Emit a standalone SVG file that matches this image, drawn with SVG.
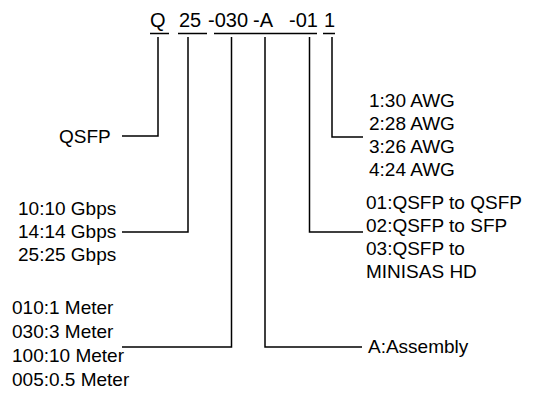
<svg xmlns="http://www.w3.org/2000/svg" width="540" height="398" viewBox="0 0 540 398">
<style>
.t{font-family:"Liberation Sans",Arial,sans-serif;font-size:19px;fill:#000}
.h{font-family:"Liberation Sans",Arial,sans-serif;font-size:20px;fill:#000}
.l{stroke:#000;stroke-width:1.5;fill:none}
</style>
<rect width="540" height="398" fill="#fff"/>
<g id="code">
<text class="h" x="150" y="27">Q</text>
<text class="h" x="179" y="27">25</text>
<text class="h" x="208" y="27">-030</text>
<text class="h" x="253" y="27">-A</text>
<text class="h" x="289" y="27">-01</text>
<text class="h" x="324" y="27">1</text>
</g>
<g id="connectors" class="l">
<path d="M150 33.5H169M178 33.5H207M214 33.5H317M323 33.5H335"/>
<path d="M158 37V136H122"/>
<path d="M188 37V232H122"/>
<path d="M231.5 37V347H122"/>
<path d="M265 37V347H362"/>
<path d="M309.5 37V232H363"/>
<path d="M332 37V137H363"/>
</g>
<g id="qsfp"><text class="t" x="59" y="143">QSFP</text></g>
<g id="speed">
<text class="t" x="18" y="215">10:10 Gbps</text>
<text class="t" x="18" y="238">14:14 Gbps</text>
<text class="t" x="18" y="261">25:25 Gbps</text>
</g>
<g id="length">
<text class="t" x="12" y="314">010:1 Meter</text>
<text class="t" x="12" y="338">030:3 Meter</text>
<text class="t" x="12" y="362">100:10 Meter</text>
<text class="t" x="12" y="386">005:0.5 Meter</text>
</g>
<g id="awg">
<text class="t" x="369" y="107">1:30 AWG</text>
<text class="t" x="369" y="130">2:28 AWG</text>
<text class="t" x="369" y="153">3:26 AWG</text>
<text class="t" x="369" y="176">4:24 AWG</text>
</g>
<g id="type">
<text class="t" x="366" y="209">01:QSFP to QSFP</text>
<text class="t" x="366" y="232">02:QSFP to SFP</text>
<text class="t" x="366" y="255">03:QSFP to</text>
<text class="t" x="366" y="278">MINISAS HD</text>
</g>
<g id="assembly"><text class="t" x="368" y="353">A:Assembly</text></g>
</svg>
